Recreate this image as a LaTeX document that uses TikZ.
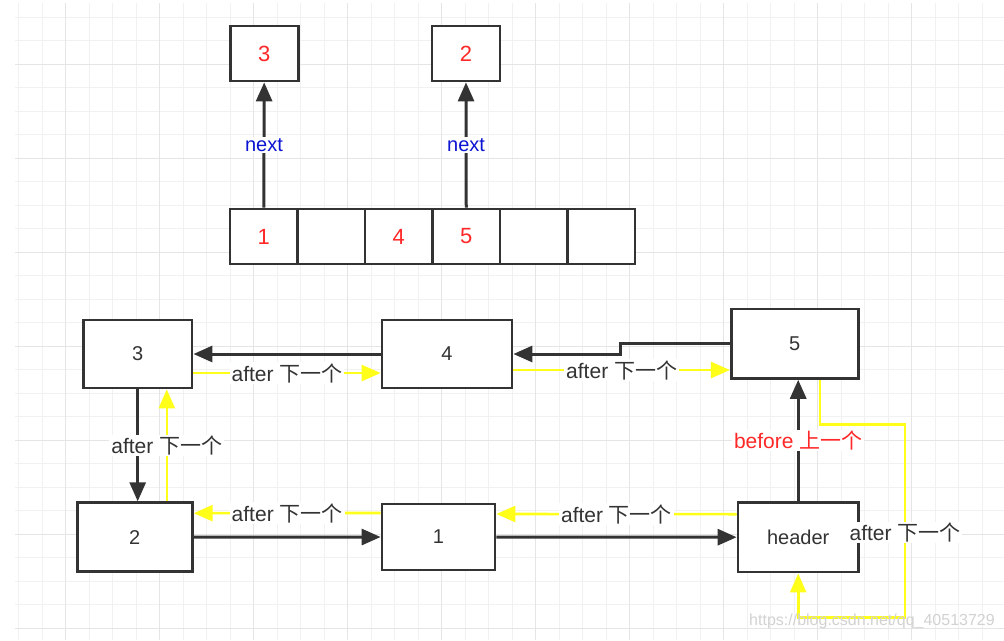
\documentclass[tikz,border=0pt]{standalone}
\usepackage{fontspec}
\setmainfont{Liberation Sans}
\newfontfamily\cjk{Noto Sans CJK SC}
\usepackage{xcolor}
\usetikzlibrary{arrows.meta,calc}
\definecolor{boxdark}{RGB}{51,51,51}
\definecolor{linkyellow}{RGB}{255,255,26}
\definecolor{valred}{RGB}{255,40,40}
\definecolor{nextblue}{RGB}{10,20,210}
\definecolor{gridminor}{RGB}{241,241,241}
\definecolor{gridmajor}{RGB}{229,229,229}

\begin{document}
\begin{tikzpicture}[x=1pt, y=-1pt,
	listbox/.style={draw=boxdark, line width=2.8pt, fill=white, rectangle, inner sep=0pt, font=\fontsize{20}{24}\selectfont, text=boxdark},
	cellbox/.style={listbox, minimum width=67.5pt, minimum height=55pt, text=valred, font=\fontsize{22}{26}\selectfont},
	darklink/.style={draw=boxdark, line width=3pt, -{Triangle[length=19pt,width=16pt]}},
	yellowlink/.style={draw=linkyellow, line width=2.6pt, -{Triangle[length=19pt,width=16pt]}},
	linklabel/.style={fill=white, inner xsep=2pt, inner ysep=1pt, font=\fontsize{21}{24}\selectfont, text=boxdark}]
				% Background and grid paper
				\useasboundingbox (0,0) rectangle (1004,640);
				\fill[white] (0,0) rectangle (1004,640);
				\foreach \gx in {18.7,42.2,...,1004} \draw[gridminor, line width=1pt] (\gx,3) -- (\gx,640);
				\foreach \gy in {17.3,40.8,...,640} \draw[gridminor, line width=1pt] (15,\gy) -- (1004,\gy);
				\foreach \gx in {65.7,159.7,...,1004} \draw[gridmajor, line width=1pt] (\gx,3) -- (\gx,640);
				\foreach \gy in {64.3,158.3,...,640} \draw[gridmajor, line width=1pt] (15,\gy) -- (1004,\gy);
				
				% Draw hash table array
				\node[cellbox] (cell1) at (263.75,236.5) {1};
				\node[cellbox] (cell2) at (331.25,236.5) {};
				\node[cellbox] (cell3) at (398.75,236.5) {4};
				\node[cellbox] (cell4) at (466.25,236.5) {5};
				\node[cellbox] (cell5) at (533.75,236.5) {};
				\node[cellbox] (cell6) at (601.25,236.5) {};
				
				% Draw bucket successors
				\node[cellbox, minimum width=68pt] (topthree) at (264.2,53.5) {3};
				\node[cellbox, minimum width=68pt] (toptwo) at (466,53.5) {2};
				
				% Next pointers
				\draw[darklink] (cell1.north) -- node[fill=white, inner sep=1pt, text=nextblue, font=\fontsize{20}{24}\selectfont] {next} (topthree.south);
				\draw[darklink] (cell4.north) -- node[fill=white, inner sep=1pt, text=nextblue, font=\fontsize{20}{24}\selectfont] {next} (toptwo.south);
				
				% Draw linked entries
				\node[listbox, minimum width=108.7pt, minimum height=68pt] (nthree) at (137.7,354) {3};
				\node[listbox, minimum width=130pt, minimum height=68pt] (nfour) at (447,354) {4};
				\node[listbox, minimum width=127pt, minimum height=69.3pt] (nfive) at (794.8,343.7) {5};
				\node[listbox, minimum width=115pt, minimum height=69pt] (ntwo) at (134.8,537.2) {2};
				\node[listbox, minimum width=113pt, minimum height=66pt] (nodeone) at (438.5,537) {1};
				\node[listbox, minimum width=120.3pt, minimum height=69.7pt] (header) at (798.2,537.2) {header};
				
				% Before links (dark)
				\draw[darklink] (nfour.west) -- (nthree.east);
				\draw[darklink] (nfive.west) -- ++(-109.6,0) |- (nfour.east);
				\draw[darklink] (nthree.south) -- (nthree.south |- ntwo.north);
				\draw[darklink] (ntwo.east) -- (nodeone.west);
				\draw[darklink] (nodeone.east) -- (header.west);
				\draw[darklink] (header.north) -- node[linklabel, text=valred] {before {\cjk 上一个}} (header.north |- nfive.south);
				
				% After links (yellow)
				\draw[yellowlink] ([yshift=-19pt]nthree.east) -- node[linklabel] {after {\cjk 下一个}} ([yshift=-19pt]nfour.west);
				\draw[yellowlink] ([yshift=-16pt]nfour.east) -- node[linklabel] {after {\cjk 下一个}} ([yshift=-26.3pt]nfive.west);
				\draw[yellowlink] ([xshift=32pt]ntwo.north) -- node[linklabel] {after {\cjk 下一个}} ([xshift=32pt]ntwo.north |- nthree.south);
				\draw[yellowlink] ([yshift=24pt]nodeone.west) -- node[linklabel] {after {\cjk 下一个}} ([yshift=24pt]ntwo.east);
				\draw[yellowlink] ([yshift=23pt]header.west) -- node[linklabel] {after {\cjk 下一个}} ([yshift=23pt]nodeone.east);
				\draw[yellowlink] ([xshift=25.2pt]nfive.south) |- (905,424.7) -- node[linklabel, pos=0.56] {after {\cjk 下一个}} (905,617.7) -| (header.south);
				
				\node[text=gray!35, font=\fontsize{16}{18}\selectfont] (watermark) at (872,621.7) {https://blog.csdn.net/qq\_40513729};
			\end{tikzpicture}
\end{document}
